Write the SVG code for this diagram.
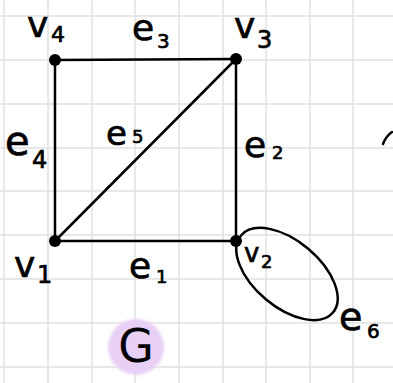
<svg xmlns="http://www.w3.org/2000/svg" width="393" height="383" viewBox="0 0 393 383">
<defs>
<style>
.grid line{stroke:#e0e0e0;stroke-width:1.5}
.edge{stroke:#000;stroke-width:2.5;fill:none;stroke-linecap:round}
.dot{fill:#000}
text{font-family:"DejaVu Sans","Liberation Sans",sans-serif;fill:#000;stroke:#000;stroke-width:0.7}
.m{font-size:36px}
.s{font-size:20px}
</style>
<filter id="blur" x="-50%" y="-50%" width="200%" height="200%"><feGaussianBlur stdDeviation="1.5"/></filter>
</defs>
<rect width="393" height="383" fill="#fff"/>
<g class="grid">
<line x1="4" y1="0" x2="4" y2="383"/><line x1="48" y1="0" x2="48" y2="383"/><line x1="92" y1="0" x2="92" y2="383"/><line x1="135" y1="0" x2="135" y2="383"/><line x1="179" y1="0" x2="179" y2="383"/><line x1="223" y1="0" x2="223" y2="383"/><line x1="266" y1="0" x2="266" y2="383"/><line x1="310" y1="0" x2="310" y2="383"/><line x1="353" y1="0" x2="353" y2="383"/>
<line x1="0" y1="16" x2="393" y2="16"/><line x1="0" y1="60" x2="393" y2="60"/><line x1="0" y1="104" x2="393" y2="104"/><line x1="0" y1="148" x2="393" y2="148"/><line x1="0" y1="191" x2="393" y2="191"/><line x1="0" y1="235" x2="393" y2="235"/><line x1="0" y1="279" x2="393" y2="279"/><line x1="0" y1="323" x2="393" y2="323"/><line x1="0" y1="367" x2="393" y2="367"/>
</g>
<g id="connectors">
<g id="e1"><line class="edge" x1="55" y1="241" x2="236" y2="241"/><text class="m" x="129" y="278">e</text><text class="s" x="156" y="283" style="font-size:18px">1</text></g>
<g id="e2"><line class="edge" x1="236" y1="59" x2="236" y2="241"/><text class="m" x="244" y="157">e</text><text class="s" x="272" y="159" style="font-size:18px">2</text></g>
<g id="e3"><line class="edge" x1="55" y1="60" x2="236" y2="59"/><text class="m" x="132" y="40">e</text><text class="s" x="157" y="48">3</text></g>
<g id="e4"><line class="edge" x1="55" y1="60" x2="55" y2="241"/><text class="m" x="5" y="155" style="font-size:40px">e</text><text class="s" x="32" y="168" style="font-size:24px">4</text></g>
<g id="e5"><line class="edge" x1="55" y1="241" x2="236" y2="59"/><text class="m" x="106" y="145" style="font-size:34px">e</text><text class="s" x="132" y="143" style="font-size:18px">5</text></g>
<g id="e6"><ellipse class="edge" cx="287" cy="274" rx="60" ry="33" transform="rotate(40 287 274)"/><text class="m" x="339" y="330" style="font-size:38px">e</text><text class="s" x="367" y="338">6</text></g>
</g>
<g id="v1"><circle class="dot" cx="55" cy="241" r="6"/><text class="m" x="14" y="277">v</text><text class="s" x="37" y="283" style="font-size:24px">1</text></g>
<g id="v2"><circle class="dot" cx="236" cy="241" r="6"/><text class="m" x="244" y="262" style="font-size:26px">v</text><text class="s" x="261" y="268" style="font-size:18px">2</text></g>
<g id="v3"><circle class="dot" cx="236" cy="59" r="6"/><text class="m" x="234" y="38">v</text><text class="s" x="257" y="48" style="font-size:24px">3</text></g>
<g id="v4"><circle class="dot" cx="55" cy="60" r="6"/><text class="m" x="27" y="37">v</text><text class="s" x="51" y="42" style="font-size:22px">4</text></g>
<g id="label-G"><circle cx="136" cy="347" r="28" fill="#e8cff6" filter="url(#blur)"/><text x="136" y="362" text-anchor="middle" style="font-size:46px;stroke-width:0">G</text></g>
<path class="edge" d="M383 144 Q386 136 392 132"/>
</svg>
